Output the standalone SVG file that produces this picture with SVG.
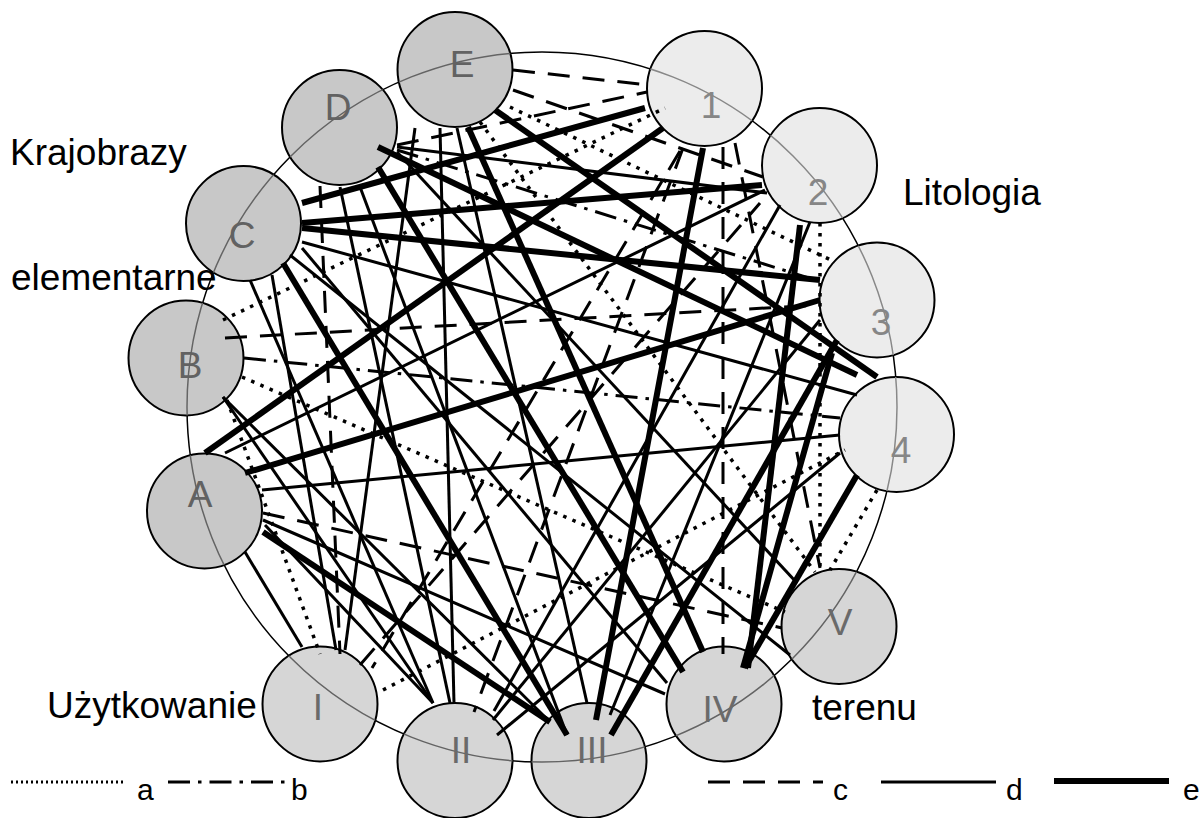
<svg xmlns="http://www.w3.org/2000/svg" width="1201" height="818" viewBox="0 0 1201 818">
<style>
text{font-family:"Liberation Sans",Arial,sans-serif}
.nk{fill:#c8c8c8;stroke:#000;stroke-width:2}
.nl{fill:#ececec;stroke:#000;stroke-width:2}
.nu{fill:#d6d6d6;stroke:#000;stroke-width:2}
.tk{font-size:37px;fill:#626262;text-anchor:middle}
.tl{font-size:37px;fill:#868686;text-anchor:middle}
.tu{font-size:37px;fill:#6a6a6a;text-anchor:middle}
.lab{font-size:37px;fill:#000}
.leg{font-size:30px;fill:#000}
line{stroke:#000;fill:none}
.a{stroke-width:3.5;stroke-dasharray:3.5 6.5}
.b{stroke-width:3;stroke-dasharray:22 8 3.5 8}
.c{stroke-width:3;stroke-dasharray:22 13}
.d{stroke-width:3}
.e{stroke-width:6}
</style>
<defs>
<clipPath id="clipDark">
<circle cx="204.5" cy="511" r="57.5"/><circle cx="186" cy="358" r="57.5"/><circle cx="243.5" cy="223.5" r="57.5"/><circle cx="339.5" cy="127.5" r="57.5"/><circle cx="455" cy="69.5" r="57.5"/>
<circle cx="320" cy="704" r="57.5"/><circle cx="455" cy="760.5" r="57.5"/><circle cx="589" cy="760.5" r="57.5"/><circle cx="724" cy="704" r="57.5"/><circle cx="839" cy="626.5" r="57.5"/>
</clipPath>
<clipPath id="clipLight">
<circle cx="704.5" cy="88.5" r="57.5"/><circle cx="819.5" cy="165.5" r="57.5"/><circle cx="877" cy="300" r="57.5"/><circle cx="896.5" cy="434.5" r="57.5"/>
</clipPath>
</defs>
<rect width="1201" height="818" fill="#fff"/>
<circle id="ring" cx="542" cy="407" r="355" fill="none" stroke="#000" stroke-width="1.5"/>
<g id="nodes">
<g id="node-A"><circle class="nk" cx="204.5" cy="511" r="57.5"/></g>
<g id="node-B"><circle class="nk" cx="186" cy="358" r="57.5"/></g>
<g id="node-C"><circle class="nk" cx="243.5" cy="223.5" r="57.5"/></g>
<g id="node-D"><circle class="nk" cx="339.5" cy="127.5" r="57.5"/></g>
<g id="node-E"><circle class="nk" cx="455" cy="69.5" r="57.5"/></g>
<g id="node-1"><circle class="nl" cx="704.5" cy="88.5" r="57.5"/></g>
<g id="node-2"><circle class="nl" cx="819.5" cy="165.5" r="57.5"/></g>
<g id="node-3"><circle class="nl" cx="877" cy="300" r="57.5"/></g>
<g id="node-4"><circle class="nl" cx="896.5" cy="434.5" r="57.5"/></g>
<g id="node-I"><circle class="nu" cx="320" cy="704" r="57.5"/></g>
<g id="node-II"><circle class="nu" cx="455" cy="760.5" r="57.5"/></g>
<g id="node-III"><circle class="nu" cx="589" cy="760.5" r="57.5"/></g>
<g id="node-IV"><circle class="nu" cx="724" cy="704" r="57.5"/></g>
<g id="node-V"><circle class="nu" cx="839" cy="626.5" r="57.5"/></g>
</g>
<circle cx="542" cy="407" r="355" fill="none" stroke="#646464" stroke-width="1.5" clip-path="url(#clipDark)"/>
<circle cx="542" cy="407" r="355" fill="none" stroke="#888" stroke-width="1.5" clip-path="url(#clipLight)"/>
<g id="node-labels">
<text class="tk" x="200" y="507">A</text>
<text class="tk" x="190" y="378">B</text>
<text class="tk" x="242" y="248">C</text>
<text class="tk" x="338" y="120">D</text>
<text class="tk" x="462" y="77">E</text>
<text class="tl" x="711" y="118">1</text>
<text class="tl" x="818" y="205">2</text>
<text class="tl" x="881" y="335">3</text>
<text class="tl" x="901" y="463">4</text>
<text class="tu" x="318" y="720">I</text>
<text class="tu" x="461" y="763">II</text>
<text class="tu" x="592" y="763">III</text>
<text class="tu" x="720" y="722">IV</text>
<text class="tu" x="840" y="635">V</text>
</g>
<g id="connectors">
<line class="e" x1="302" y1="203" x2="645" y2="108"/>
<line class="e" x1="302" y1="223" x2="762" y2="185"/>
<line class="e" x1="302" y1="228" x2="820" y2="280"/>
<line class="e" x1="378" y1="147" x2="857" y2="375"/>
<line class="e" x1="495" y1="110" x2="877" y2="377"/>
<line class="e" x1="378" y1="167" x2="683" y2="672"/>
<line class="e" x1="468" y1="127" x2="703" y2="652"/>
<line class="e" x1="205" y1="453" x2="663" y2="128"/>
<line class="e" x1="245" y1="473" x2="820" y2="300"/>
<line class="e" x1="263" y1="532" x2="550" y2="722"/>
<line class="e" x1="283" y1="263" x2="567" y2="735"/>
<line class="e" x1="703" y1="148" x2="596" y2="720"/>
<line class="e" x1="837" y1="340" x2="611" y2="735"/>
<line class="e" x1="832" y1="353" x2="743" y2="668"/>
<line class="e" x1="857" y1="475" x2="745" y2="668"/>
<line class="e" x1="800" y1="225" x2="748" y2="668"/>
<line class="c" x1="513" y1="70" x2="648" y2="85"/>
<line class="c" x1="513" y1="90" x2="763" y2="177"/>
<line class="c" x1="397" y1="145" x2="647" y2="92"/>
<line class="c" x1="225" y1="338" x2="820" y2="305"/>
<line class="c" x1="723" y1="147" x2="723" y2="654"/>
<line class="c" x1="320" y1="186" x2="340" y2="654"/>
<line class="c" x1="360" y1="665" x2="760" y2="203"/>
<line class="c" x1="263" y1="513" x2="782" y2="628"/>
<line class="c" x1="683" y1="148" x2="474" y2="712"/>
<line class="c" x1="680" y1="151" x2="372" y2="668"/>
<line class="c" x1="735" y1="143" x2="820" y2="568"/>
<line class="b" x1="244" y1="358" x2="840" y2="418"/>
<line class="b" x1="397" y1="150" x2="822" y2="282"/>
<line class="a" x1="227" y1="400" x2="320" y2="654"/>
<line class="a" x1="383" y1="690" x2="845" y2="450"/>
<line class="a" x1="223" y1="320" x2="665" y2="108"/>
<line class="a" x1="820" y1="223" x2="820" y2="572"/>
<line class="a" x1="242" y1="377" x2="785" y2="612"/>
<line class="a" x1="877" y1="490" x2="830" y2="570"/>
<line class="a" x1="510" y1="107" x2="835" y2="262"/>
<line class="a" x1="480" y1="122" x2="815" y2="572"/>
<line class="d" x1="302" y1="242" x2="857" y2="395"/>
<line class="d" x1="397" y1="147" x2="767" y2="193"/>
<line class="d" x1="397" y1="152" x2="797" y2="583"/>
<line class="d" x1="290" y1="255" x2="790" y2="655"/>
<line class="d" x1="245" y1="552" x2="302" y2="647"/>
<line class="d" x1="265" y1="525" x2="433" y2="703"/>
<line class="d" x1="272" y1="275" x2="336" y2="650"/>
<line class="d" x1="415" y1="128" x2="345" y2="650"/>
<line class="d" x1="225" y1="453" x2="765" y2="190"/>
<line class="d" x1="262" y1="490" x2="840" y2="435"/>
<line class="d" x1="263" y1="520" x2="665" y2="694"/>
<line class="d" x1="223" y1="397" x2="433" y2="703"/>
<line class="d" x1="250" y1="280" x2="433" y2="703"/>
<line class="d" x1="440" y1="128" x2="454" y2="703"/>
<line class="d" x1="340" y1="187" x2="450" y2="703"/>
<line class="d" x1="360" y1="187" x2="567" y2="735"/>
<line class="d" x1="457" y1="128" x2="587" y2="703"/>
<line class="d" x1="780" y1="205" x2="494" y2="711"/>
<line class="d" x1="840" y1="453" x2="497" y2="735"/>
<line class="d" x1="820" y1="320" x2="493" y2="720"/>
<line class="d" x1="810" y1="222" x2="610" y2="715"/>
<line class="d" x1="223" y1="397" x2="548" y2="720"/>
<line class="d" x1="302" y1="248" x2="667" y2="683"/>
</g>
<g id="group-labels">
<text class="lab" x="10" y="165">Krajobrazy</text>
<text class="lab" x="11" y="290">elementarne</text>
<text class="lab" x="903" y="205">Litologia</text>
<text class="lab" x="47" y="718">Użytkowanie</text>
<text class="lab" x="812" y="720">terenu</text>
</g>
<g id="legend">
<line x1="11" y1="782" x2="123" y2="782" style="stroke-dasharray:2 3;stroke-width:3"/>
<text class="leg" x="137" y="800">a</text>
<line class="b" x1="168" y1="782" x2="285" y2="782"/>
<text class="leg" x="291" y="800">b</text>
<line class="c" x1="708" y1="782" x2="823" y2="782"/>
<text class="leg" x="833" y="800">c</text>
<line class="d" x1="881" y1="782" x2="996" y2="782"/>
<text class="leg" x="1006" y="800">d</text>
<line class="e" x1="1054" y1="781" x2="1169" y2="781"/>
<text class="leg" x="1183" y="800">e</text>
</g>
</svg>
